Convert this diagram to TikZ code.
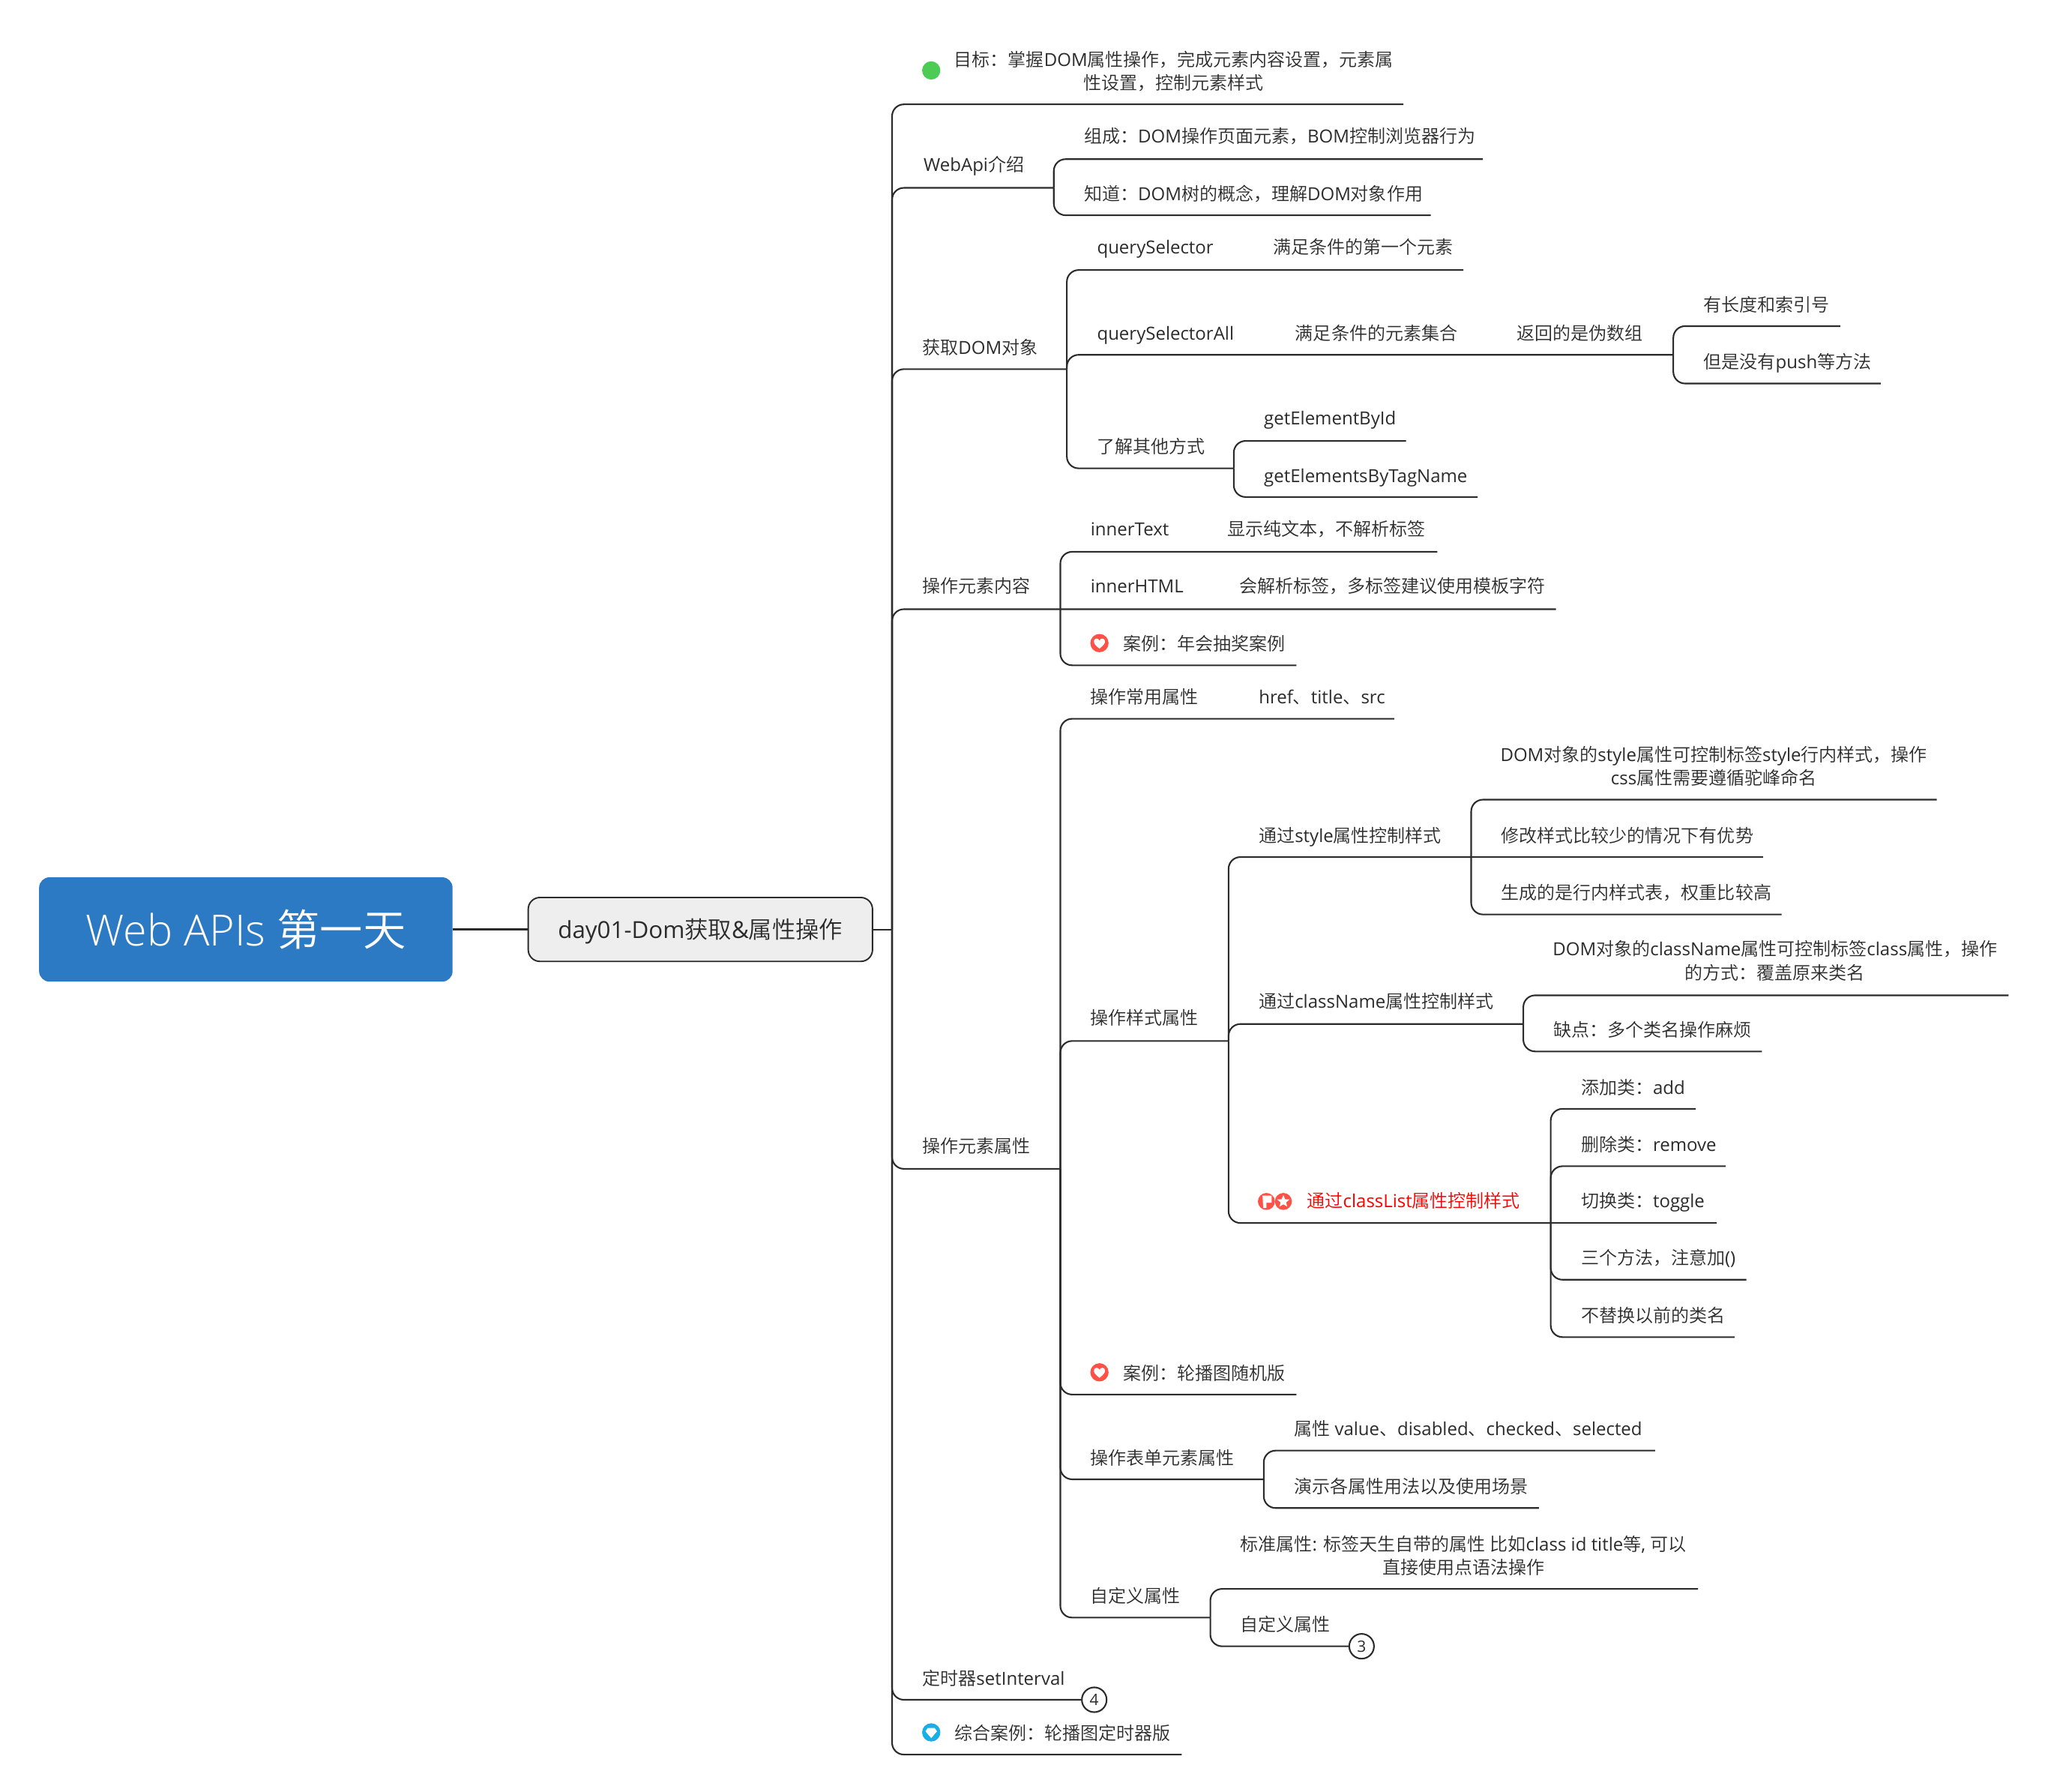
\documentclass[tikz,border=0pt]{standalone}
\usepackage{fontspec}
\setmainfont{Open Sans}
\newfontfamily\cjk{Noto Sans CJK SC DemiLight}
\newfontfamily\rootlatin{Open Sans Light}
\XeTeXinterchartokenstate=1
\newXeTeXintercharclass\cjkcls
\newcount\cc
\cc="2E80 \loop \XeTeXcharclass\cc=\cjkcls \ifnum\cc<"9FFF \advance\cc 1 \repeat
\cc="FF00 \loop \XeTeXcharclass\cc=\cjkcls \ifnum\cc<"FFEF \advance\cc 1 \repeat
\XeTeXinterchartoks 0 \cjkcls={\begingroup\cjk}
\XeTeXinterchartoks 4095 \cjkcls={\begingroup\cjk}
\XeTeXinterchartoks \cjkcls 0={\endgroup}
\XeTeXinterchartoks \cjkcls 4095={\endgroup}
\definecolor{ink}{HTML}{2B2B2B}
\definecolor{rootblue}{HTML}{2B7AC3}
\definecolor{boxgrey}{HTML}{EEEEEE}
\definecolor{iconred}{HTML}{FF5146}
\definecolor{icongreen}{HTML}{4CCB55}
\definecolor{iconblue}{HTML}{18AEE6}
\tikzset{
  x=1pt,y=-1pt,
  lab/.style={anchor=west,inner sep=0pt,text height=12.2pt,text depth=1pt,text=ink,font=\fontsize{13.8}{18}\selectfont},
  multi/.style={anchor=center,inner sep=0pt,align=center,text=ink,font=\fontsize{13.8}{18}\selectfont},
  conn/.style={draw=ink,line width=1.2pt,rounded corners=9pt},
  numc/.style={circle,draw=ink,line width=1.2pt,fill=white,minimum size=19pt,inner sep=0pt,text=ink,font=\fontsize{12}{14}\selectfont},
  rootbox/.style={rectangle,rounded corners=8pt,fill=rootblue,text=white,minimum width=317pt,minimum height=80pt,inner sep=0pt,font=\rootlatin\fontsize{33}{38}\selectfont},
  subbox/.style={rectangle,rounded corners=9pt,fill=boxgrey,draw=ink,line width=1.1pt,text=ink,minimum width=264pt,minimum height=49pt,inner sep=0pt,text height=14pt,text depth=0pt,font=\fontsize{18}{24}\selectfont},
  icondot/.style={circle,inner sep=0pt,minimum size=14pt},
}
\newcommand{\heartpath}{(0,4.2) .. controls (-3,1.8) and (-4.6,0.2) .. (-4.2,-1.8) .. controls (-3.7,-4) and (-1,-4) .. (0,-2) .. controls (1,-4) and (3.7,-4) .. (4.2,-1.8) .. controls (4.6,0.2) and (3,1.8) .. (0,4.2) -- cycle}
\begin{document}
\begin{tikzpicture}
\useasboundingbox (0,0) rectangle (1568,1373.7);
% root and main branch
\node[rootbox] (root) at (188.5,712.5) {Web APIs 第一天};
\node[subbox] (day) at (537,712.5) {day01-Dom获取\&属性操作};
\draw[draw=ink,line width=2pt] (root.east) -- (day.west);
\coordinate (hub) at (684,712.5);
\draw[draw=ink,line width=1.2pt] (day.east) -- (hub);

% goal
\node[multi] (goal) at (900,54.5) {目标：掌握DOM属性操作，完成元素内容设置，元素属\\性设置，控制元素样式};
\node[icondot,fill=icongreen] (goalic) at (714,54) {};
\coordinate (goale) at (1076,80);
\draw[conn] (hub) |- (goale);

% WebApi
\node[lab] (web) at (708,126) {WebApi介绍};
\coordinate (webh) at (808,144);
\draw[conn] (hub) |- (webh);
\node[lab] (web1) at (831,104) {组成：DOM操作页面元素，BOM控制浏览器行为};
\coordinate (web1e) at (1137,122);
\draw[conn] (webh) |- (web1e);
\node[lab] (web2) at (831,148) {知道：DOM树的概念，理解DOM对象作用};
\coordinate (web2e) at (1097,165);
\draw[conn] (webh) |- (web2e);

% get DOM
\node[lab] (get) at (707,266) {获取DOM对象};
\coordinate (geth) at (818,283);
\draw[conn] (hub) |- (geth);
\node[lab] (qs) at (841,189) {querySelector};
\node[lab] (qsa) at (976,189) {满足条件的第一个元素};
\coordinate (qse) at (1122,207);
\draw[conn] (geth) |- (qse);
\node[lab] (qsall) at (841,255) {querySelectorAll};
\node[lab] (qsall1) at (993,255) {满足条件的元素集合};
\node[lab] (qsall2) at (1163,255) {返回的是伪数组};
\coordinate (qsallh) at (1283,272);
\draw[conn] (geth) |- (qsallh);
\node[lab] (arr1) at (1306,233) {有长度和索引号};
\coordinate (arr1e) at (1411,250);
\draw[conn] (qsallh) |- (arr1e);
\node[lab] (arr2) at (1306,277) {但是没有push等方法};
\coordinate (arr2e) at (1442,294);
\draw[conn] (qsallh) |- (arr2e);
\node[lab] (other) at (841,342) {了解其他方式};
\coordinate (otherh) at (946,359);
\draw[conn] (geth) |- (otherh);
\node[lab] (byid) at (969,320) {getElementById};
\coordinate (byide) at (1078,338);
\draw[conn] (otherh) |- (byide);
\node[lab] (bytag) at (969,364) {getElementsByTagName};
\coordinate (bytage) at (1133,381);
\draw[conn] (otherh) |- (bytage);

% content
\node[lab] (cont) at (707,449) {操作元素内容};
\coordinate (conth) at (813,467);
\coordinate (html2e) at (1193,467);
\draw[conn] (hub) |- (html2e);
\node[lab] (itxt) at (836,405) {innerText};
\node[lab] (itxt1) at (941,405) {显示纯文本，不解析标签};
\coordinate (itxte) at (1102,423);
\draw[conn] (conth) |- (itxte);
\node[lab] (ihtml) at (836,449) {innerHTML};
\node[lab] (ihtml1) at (950,449) {会解析标签，多标签建议使用模板字符};
\node[lab] (case1) at (861,493) {案例：年会抽奖案例};
\node[icondot,fill=iconred] (case1ic) at (843,493) {};
\fill[white,shift={(843,493)}] \heartpath;
\coordinate (case1e) at (994,510);
\draw[conn] (conth) |- (case1e);

% attributes
\node[lab] (attr) at (707,878) {操作元素属性};
\coordinate (attrh) at (813,896);
\draw[conn] (hub) |- (attrh);
\node[lab] (com) at (836,534) {操作常用属性};
\node[lab] (com1) at (965,534) {href、title、src};
\coordinate (come) at (1069,551);
\draw[conn] (attrh) |- (come);
\node[lab] (sty) at (836,780) {操作样式属性};
\coordinate (styh) at (942,798);
\draw[conn] (attrh) |- (styh);

\node[lab] (st) at (965,640) {通过style属性控制样式};
\coordinate (sth) at (1128,657);
\draw[conn] (styh) |- (sth);
\node[multi] (st1) at (1314,587.5) {DOM对象的style属性可控制标签style行内样式，操作\\css属性需要遵循驼峰命名};
\coordinate (st1e) at (1485,613);
\draw[conn] (sth) |- (st1e);
\node[lab] (st2) at (1151,640) {修改样式比较少的情况下有优势};
\coordinate (st2e) at (1352,657);
\draw[draw=ink,line width=1.2pt] (sth) -- (st2e);
\node[lab] (st3) at (1151,684) {生成的是行内样式表，权重比较高};
\coordinate (st3e) at (1366,701);
\draw[conn] (sth) |- (st3e);

\node[lab] (cn) at (965,767) {通过className属性控制样式};
\coordinate (cnh) at (1168,785);
\draw[conn] (styh) |- (cnh);
\node[multi] (cn1) at (1361,736.5) {DOM对象的className属性可控制标签class属性，操作\\的方式：覆盖原来类名};
\coordinate (cn1e) at (1540,763);
\draw[conn] (cnh) |- (cn1e);
\node[lab] (cn2) at (1191,789) {缺点：多个类名操作麻烦};
\coordinate (cn2e) at (1351,806);
\draw[conn] (cnh) |- (cn2e);

\node[lab,text=red] (cl) at (1002,920) {通过classList属性控制样式};
\node[icondot,fill=iconred,minimum size=13pt] (flagic) at (971,921) {};
\node[icondot,fill=iconred,minimum size=13pt] (staric) at (984,921) {};
\fill[white] (968,916.5) -- (975,916.5) -- (975,922) -- (971,922) -- (971,926) -- (968.6,926) -- cycle;
\fill[white,shift={(984,921)}] (0,-5) -- (1.3,-1.7) -- (4.8,-1.5) -- (2.1,0.7) -- (3,4) -- (0,2.2) -- (-3,4) -- (-2.1,0.7) -- (-4.8,-1.5) -- (-1.3,-1.7) -- cycle;
\coordinate (clh) at (1189,937.5);
\draw[conn] (styh) |- (clh);
\node[lab] (cl1) at (1212,833) {添加类：add};
\coordinate (cl1e) at (1300,850);
\draw[conn] (clh) |- (cl1e);
\node[lab] (cl2) at (1212,877) {删除类：remove};
\coordinate (cl2e) at (1323,894);
\draw[conn] (clh) |- (cl2e);
\node[lab] (cl3) at (1212,920) {切换类：toggle};
\coordinate (cl3e) at (1316,937.5);
\draw[draw=ink,line width=1.2pt] (clh) -- (cl3e);
\node[lab] (cl4) at (1212,964) {三个方法，注意加()};
\coordinate (cl4e) at (1339,981);
\draw[conn] (clh) |- (cl4e);
\node[lab] (cl5) at (1212,1008) {不替换以前的类名};
\coordinate (cl5e) at (1330,1025);
\draw[conn] (clh) |- (cl5e);

\node[lab] (case2) at (861,1052) {案例：轮播图随机版};
\node[icondot,fill=iconred] (case2ic) at (843,1052) {};
\fill[white,shift={(843,1052)}] \heartpath;
\coordinate (case2e) at (994,1069);
\draw[conn] (attrh) |- (case2e);

\node[lab] (form) at (836,1117) {操作表单元素属性};
\coordinate (formh) at (969,1134);
\draw[conn] (attrh) |- (formh);
\node[lab] (form1) at (992,1095) {属性 value、disabled、checked、selected};
\coordinate (form1e) at (1269,1112);
\draw[conn] (formh) |- (form1e);
\node[lab] (form2) at (992,1139) {演示各属性用法以及使用场景};
\coordinate (form2e) at (1180,1156);
\draw[conn] (formh) |- (form2e);

\node[lab] (cus) at (836,1223) {自定义属性};
\coordinate (cush) at (928,1240);
\draw[conn] (attrh) |- (cush);
\node[multi] (cus1) at (1122,1192.5) {标准属性: 标签天生自带的属性 比如class id title等, 可以\\直接使用点语法操作};
\coordinate (cus1e) at (1302,1218);
\draw[conn] (cush) |- (cus1e);
\node[lab] (cus2) at (951,1245) {自定义属性};
\node[numc] (n3) at (1044,1262) {3};
\draw[conn] (cush) |- (n3.west);

% timer
\node[lab] (tim) at (707,1286) {定时器setInterval};
\node[numc] (n4) at (839,1303) {4};
\draw[conn] (hub) |- (n4.west);

% final case
\node[lab] (fin) at (732,1328) {综合案例：轮播图定时器版};
\node[icondot,fill=iconblue] (finic) at (714,1328) {};
\fill[white,shift={(714,1328)}] (-4.4,-0.8) -- (-2.6,-3.4) -- (2.6,-3.4) -- (4.4,-0.8) -- (0,4.4) -- cycle;
\coordinate (fine) at (906,1345);
\draw[conn] (hub) |- (fine);
\end{tikzpicture}
\end{document}
